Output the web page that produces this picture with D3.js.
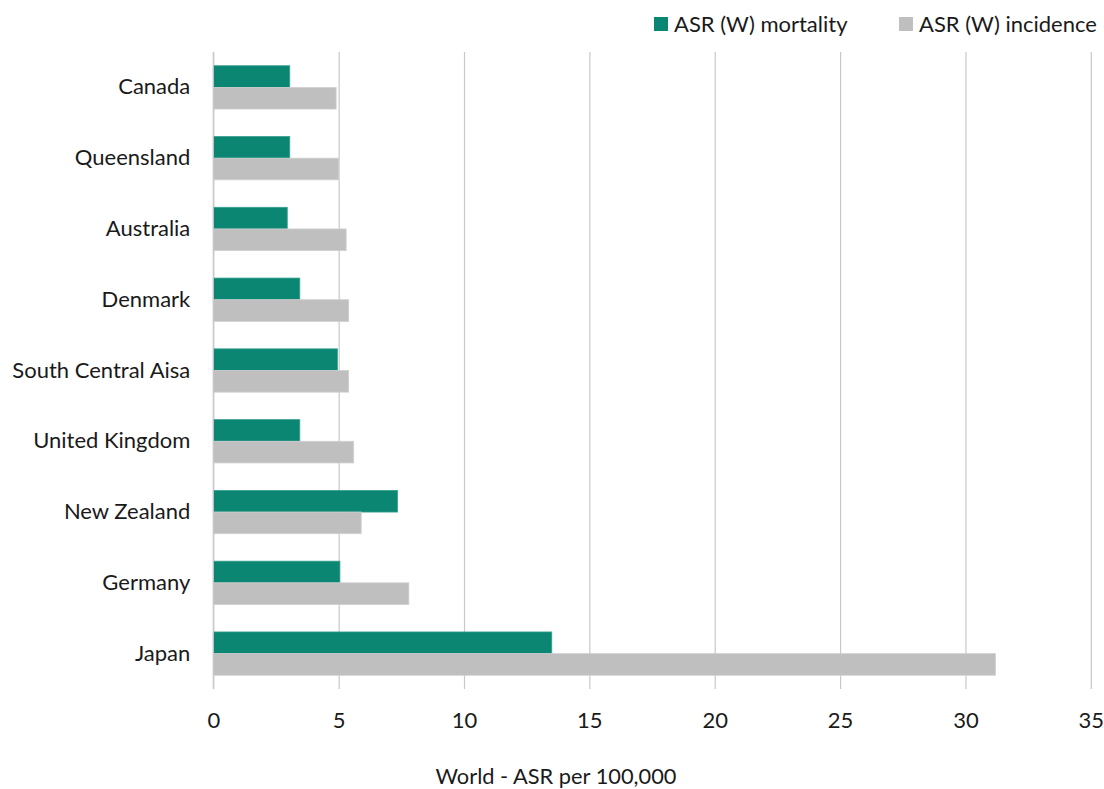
<!DOCTYPE html>
<html>
<head>
<meta charset="utf-8">
<script src="https://cdn.jsdelivr.net/npm/d3@7"></script>
<style>
  body { margin: 0; background: #fff; }
  text { font-family: Lato, sans-serif; fill: #1a1a1a; }
</style>
</head>
<body>
<svg id="chart" width="1104" height="789"></svg>
<script>
const categories = ["Canada", "Queensland", "Australia", "Denmark", "South Central Aisa", "United Kingdom", "New Zealand", "Germany", "Japan"];
const mortality = [3.05, 3.05, 2.95, 3.45, 4.95, 3.45, 7.35, 5.05, 13.5];
const incidence = [4.9, 5.0, 5.3, 5.4, 5.4, 5.6, 5.9, 7.8, 31.2];
const seriesNames = ["ASR (W) mortality", "ASR (W) incidence"];
const seriesColors = ["#0a8673", "#bfbfbf"];
const xTicks = [0, 5, 10, 15, 20, 25, 30, 35];
const xTitle = "World - ASR per 100,000";

const svg = d3.select("#chart");
const m = { left: 213.3, right: 1090.8, top: 52, bottom: 689 };
const FONT = "Lato, sans-serif";

const x = d3.scaleLinear().domain([0, 35]).range([m.left, m.right]);
const y = d3.scaleBand().domain(categories).range([m.top, m.bottom])
  .paddingInner(0.388).paddingOuter(0.194);
const sub = d3.scaleBand().domain([0, 1]).range([0, y.bandwidth()]);

// gridlines
const grid = svg.append("g")
  .attr("transform", `translate(0,${m.bottom})`)
  .call(d3.axisBottom(x).tickValues(xTicks).tickSize(-(m.bottom - m.top)).tickFormat(""));
grid.select(".domain").remove();
grid.selectAll("line").attr("stroke", "#c8c8c8").attr("stroke-width", 1.2);

// bars
const rows = categories.map((c, i) => ({ c, vals: [mortality[i], incidence[i]] }));
const g = svg.append("g");
rows.forEach(r => {
  r.vals.forEach((v, k) => {
    g.append("rect")
      .attr("x", x(0))
      .attr("y", y(r.c) + sub(k))
      .attr("width", x(v) - x(0))
      .attr("height", sub.bandwidth())
      .attr("fill", seriesColors[k])
      .attr("stroke", k === 0 ? "#3aa08f" : "#d0d0d0")
      .attr("stroke-width", 0.8);
  });
});

// vertical axis line
svg.append("line")
  .attr("x1", x(0)).attr("x2", x(0))
  .attr("y1", m.top).attr("y2", m.bottom)
  .attr("stroke", "#c8c8c8").attr("stroke-width", 1.2);

// x tick labels
const xa = svg.append("g")
  .attr("transform", `translate(0,${m.bottom})`)
  .call(d3.axisBottom(x).tickValues(xTicks).tickSize(0).tickPadding(23).tickFormat(d3.format("d")));
xa.select(".domain").remove();
xa.selectAll("text").style("font-size", "22px").style("font-family", FONT).attr("fill", "#1a1a1a");

// y labels
const ya = svg.append("g")
  .attr("transform", `translate(${m.left},0)`)
  .call(d3.axisLeft(y).tickSize(0).tickPadding(23));
ya.select(".domain").remove();
ya.selectAll("text").style("font-size", "22px").style("font-family", FONT).attr("fill", "#1a1a1a");

// x title
svg.append("text")
  .attr("x", 556).attr("y", 784)
  .attr("text-anchor", "middle")
  .style("font-size", "21.8px")
  .text(xTitle);

// legend
const legendX = [654, 899];
seriesNames.forEach((n, k) => {
  svg.append("rect")
    .attr("x", legendX[k]).attr("y", 17)
    .attr("width", 14).attr("height", 14)
    .attr("fill", seriesColors[k]);
  svg.append("text")
    .attr("x", legendX[k] + 20).attr("y", 32)
    .style("font-size", "22px")
    .text(n);
});
</script>
</body>
</html>
